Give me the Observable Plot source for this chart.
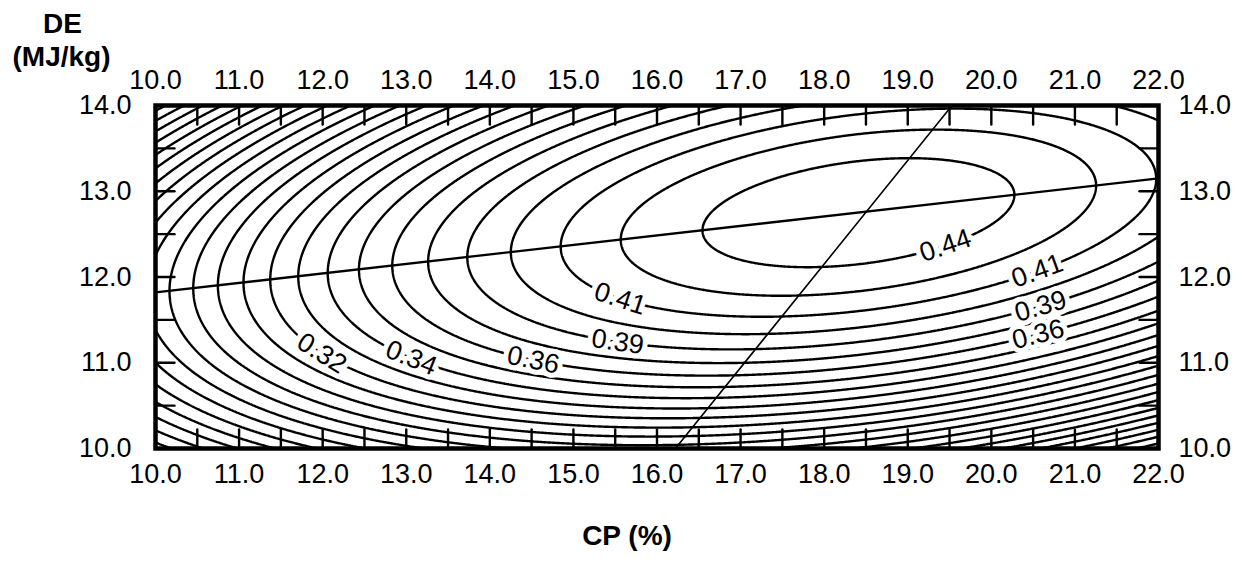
<!DOCTYPE html>
<html>
<head>
<meta charset="utf-8">
<script src="https://cdn.jsdelivr.net/npm/d3@7"></script>
<script src="https://cdn.jsdelivr.net/npm/@observablehq/plot@0.6"></script>
<style>
  html, body { margin: 0; padding: 0; background: #fff; }
  #chart svg { display: block; }
</style>
</head>
<body>
<div id="chart"></div>
<script>
// ---- tick labels / tick marks ----
const cpTickLabels = [10, 11, 12, 13, 14, 15, 16, 17, 18, 19, 20, 21, 22];
const deTickLabels = [10, 11, 12, 13, 14];
const cpMinorTicks = [10.5, 11, 11.5, 12, 12.5, 13, 13.5, 14, 14.5, 15, 15.5, 16, 16.5, 17, 17.5, 18, 18.5, 19, 19.5, 20, 20.5, 21, 21.5];
const deMinorTicks = [10.5, 11, 11.5, 12, 12.5, 13, 13.5];

// ---- response surface (quadratic, peak near CP 18.4 %, DE 12.75 MJ/kg) ----
const surfaceCenter = [18.41, 12.75];      // CP, DE of the maximum
const surfacePeak = [0.445];               // value at the maximum
const surfaceShape = [0.0249, 0.1108, 0.1038]; // scale, ridge tilt, along-ridge curvature

// ---- contour levels drawn ----
const contourLevels = [0.436, 0.4241, 0.4122, 0.4003, 0.3884, 0.3765, 0.3646, 0.3527, 0.3408, 0.3289,
  0.317, 0.3051, 0.2932, 0.2813, 0.2694, 0.2575, 0.2456, 0.2337, 0.2218, 0.2099,
  0.198, 0.1861, 0.1742, 0.1623, 0.1504];

// ---- contour labels ----
const labelText = ["0.44", "0.41", "0.41", "0.39", "0.39", "0.36", "0.36", "0.34", "0.32"];
const labelCP = [19.45, 15.56, 20.55, 15.53, 20.59, 14.52, 20.56, 13.06, 11.99];
const labelLevelIndex = [0, 2, 2, 4, 4, 6, 6, 8, 10];

// ---- straight lines ----
const ridgeCP = [10, 22];
const ridgeDE = [11.82, 13.15];
const crossCP = [16.22, 19.53];
const crossDE = [10, 14];

// ---- layout ----
const W = 1254, H = 562;
const mL = 155, mR = 96, mT = 105, mB = 114;
const frameW = W - mL - mR, frameH = H - mT - mB;
const pxPerCP = frameW / 12;
const pxPerDE = frameH / 4;
const tickLen = 19;
const tickDE = tickLen / pxPerDE; // tick length in DE units
const tickCP = tickLen / pxPerCP; // tick length in CP units

const [cx, cy] = surfaceCenter;
const [K, s1, r] = surfaceShape;
const peak = surfacePeak[0];
const surface = (x, y) => {
  const u = x - cx;
  const w = (y - cy) - s1 * u;
  return peak - K * (w * w + r * u * u);
};

// place labels on the lower branch of their contour
const labels = labelText.map((t, i) => {
  const level = contourLevels[labelLevelIndex[i]];
  const u = labelCP[i] - cx;
  const Q = (peak - level) / K;
  const w = -Math.sqrt(Math.max(1e-6, Q - r * u * u));
  const y = cy + s1 * u + w;
  const slope = s1 - r * u / w;
  const angle = Math.atan(-slope * pxPerDE / pxPerCP) * 180 / Math.PI;
  return {text: t, x: labelCP[i], y, angle};
});

const ridge = ridgeCP.map((x, i) => ({x, y: ridgeDE[i]}));
const cross = crossCP.map((x, i) => ({x, y: crossDE[i]}));

// inward tick segments as two-point polylines grouped by id
const tickPts = [];
cpMinorTicks.forEach((x, i) => {
  tickPts.push({id: "b" + i, x, y: 10}, {id: "b" + i, x, y: 10 + tickDE});
  tickPts.push({id: "t" + i, x, y: 14}, {id: "t" + i, x, y: 14 - tickDE});
});
deMinorTicks.forEach((y, i) => {
  tickPts.push({id: "l" + i, x: 10, y}, {id: "l" + i, x: 10 + tickCP, y});
  tickPts.push({id: "r" + i, x: 22, y}, {id: "r" + i, x: 22 - tickCP, y});
});

const fmt = d3.format(".1f");
const font = "Liberation Sans, Arial, Helvetica, sans-serif";

const chart = Plot.plot({
  width: W,
  height: H,
  marginLeft: mL,
  marginRight: mR,
  marginTop: mT,
  marginBottom: mB,
  style: {fontFamily: font, background: "#fff", color: "#000"},
  x: {domain: [10, 22]},
  y: {domain: [10, 14]},
  marks: [
    Plot.contour({
      value: surface,
      x1: 10, x2: 22, y1: 10, y2: 14,
      thresholds: contourLevels,
      pixelSize: 1,
      fill: "none",
      stroke: "#000",
      strokeWidth: 2.4
    }),
    Plot.line(ridge, {x: "x", y: "y", stroke: "#000", strokeWidth: 2.3}),
    Plot.line(cross, {x: "x", y: "y", stroke: "#000", strokeWidth: 1.6}),
    // inward minor ticks on all four sides
    Plot.line(tickPts, {x: "x", y: "y", z: "id", stroke: "#000", strokeWidth: 2.4}),
    Plot.frame({stroke: "#000", strokeWidth: 4.5}),
    // tick labels
    Plot.axisX({anchor: "bottom", ticks: cpTickLabels, tickSize: 0, tickPadding: 15, tickFormat: fmt, fontSize: 27, label: null}),
    Plot.axisX({anchor: "top", ticks: cpTickLabels, tickSize: 0, tickPadding: 17, tickFormat: fmt, fontSize: 27, label: null}),
    Plot.axisY({anchor: "left", ticks: deTickLabels, tickSize: 0, tickPadding: 24, tickFormat: fmt, fontSize: 27, label: null}),
    Plot.axisY({anchor: "right", ticks: deTickLabels, tickSize: 0, tickPadding: 20, tickFormat: fmt, fontSize: 27, label: null}),
    // contour labels with white halo
    Plot.text(labels, {
      x: "x", y: "y", text: "text", rotate: "angle",
      fontSize: 27, fill: "#000", stroke: "#fff", strokeWidth: 10
    }),
    // axis titles
    Plot.text(["DE"], {frameAnchor: "top-left", dx: -93, dy: -92, fontSize: 28, fontWeight: "bold", textAnchor: "middle"}),
    Plot.text(["(MJ/kg)"], {frameAnchor: "top-left", dx: -94, dy: -59, fontSize: 28, fontWeight: "bold", textAnchor: "middle"}),
    Plot.text(["CP (%)"], {frameAnchor: "bottom", dx: -30, dy: 96, fontSize: 28, fontWeight: "bold", textAnchor: "middle"})
  ]
});

document.getElementById("chart").appendChild(chart);
</script>
</body>
</html>
